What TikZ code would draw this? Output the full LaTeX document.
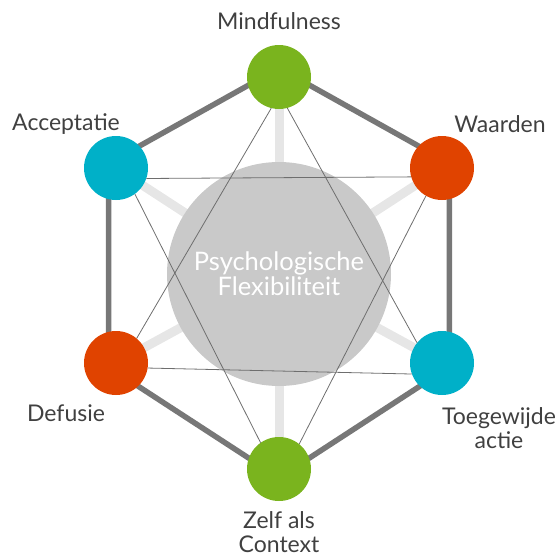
\documentclass[tikz,border=0pt]{standalone}
\usepackage{fontspec}
\setmainfont{Lato}
\usetikzlibrary{calc,positioning}
\definecolor{actgreen}{HTML}{7AB41E}
\definecolor{actblue}{HTML}{00B0C8}
\definecolor{actred}{HTML}{E04300}
\definecolor{edgegray}{HTML}{777777}
\definecolor{spokegray}{HTML}{E6E6E6}
\definecolor{coregray}{HTML}{C9C9C9}
\definecolor{linegray}{HTML}{6E6E6E}
\definecolor{textgray}{HTML}{404040}
\pgfdeclarelayer{bg}
\pgfsetlayers{bg,main}
\tikzset{
    x=1pt,y=-1pt,
    facet/.style ={circle, inner sep=0pt, minimum size=64pt},
    core/.style ={circle, fill=coregray, inner sep=0pt, minimum size=224pt, text=white, align=center, font=\fontsize{25.5}{25}\selectfont},
    lbl/.style = {text=textgray, align=center, font=\fontsize{23}{23.5}\selectfont},
    hexedge/.style={draw=edgegray, line width=5.5pt, line join=round},
    spoke/.style={draw=spokegray, line width=9pt},
    cross/.style={draw=linegray, line width=0.8pt}
}
\begin{document}
\begin{tikzpicture}
    \useasboundingbox (0,0) rectangle (557,557);
    \node[core] (0) at (279,274) {Psychologische\\Flexibiliteit};
    \node[facet,fill=actgreen] (1) at (279,77) {};
    \node[facet,fill=actred] (2) at (442,168) {};
    \node[facet,fill=actblue] (3) at (442,363) {};
    \node[facet,fill=actgreen] (4) at (279,469) {};
    \node[facet,fill=actred] (5) at (116,363) {};
    \node[facet,fill=actblue] (6) at (116,168) {};

    \node[lbl] (l1) at (279,21) {Mindfulness};
    \node[lbl] (l2) at (500,124) {Waarden};
    \node[lbl] (l3) at (499,428) {Toegewijde\\actie};
    \node[lbl] (l4) at (279,532) {Zelf als\\Context};
    \node[lbl] (l5) at (66,413) {Defusie};
    \node[lbl] (l6) at (66,124) {Acceptatie};

    % thin diagonals over the core
    \path[cross] (1.-104) -- (5.50);
    \path[cross] (1.-75) -- (3.141);
    \path[cross] (6.-19) -- (2.196);
    \path[cross] (5.-9) -- (3.200);
    \path[cross] (6.-54) -- (4.125);
    \path[cross] (2.-120) -- (4.51);

    \begin{pgfonlayer}{bg}
    \foreach \i in {1,...,6}
        \path[spoke] (0.center) -- (\i.center);
    \path[hexedge] ($(0)!1.045!(1)$) -- ($(0)!1.045!(2)$) -- ($(0)!1.045!(3)$)
        -- ($(0)!1.045!(4)$) -- ($(0)!1.045!(5)$) -- ($(0)!1.045!(6)$) -- cycle;
    \end{pgfonlayer}
\end{tikzpicture}
\end{document}
